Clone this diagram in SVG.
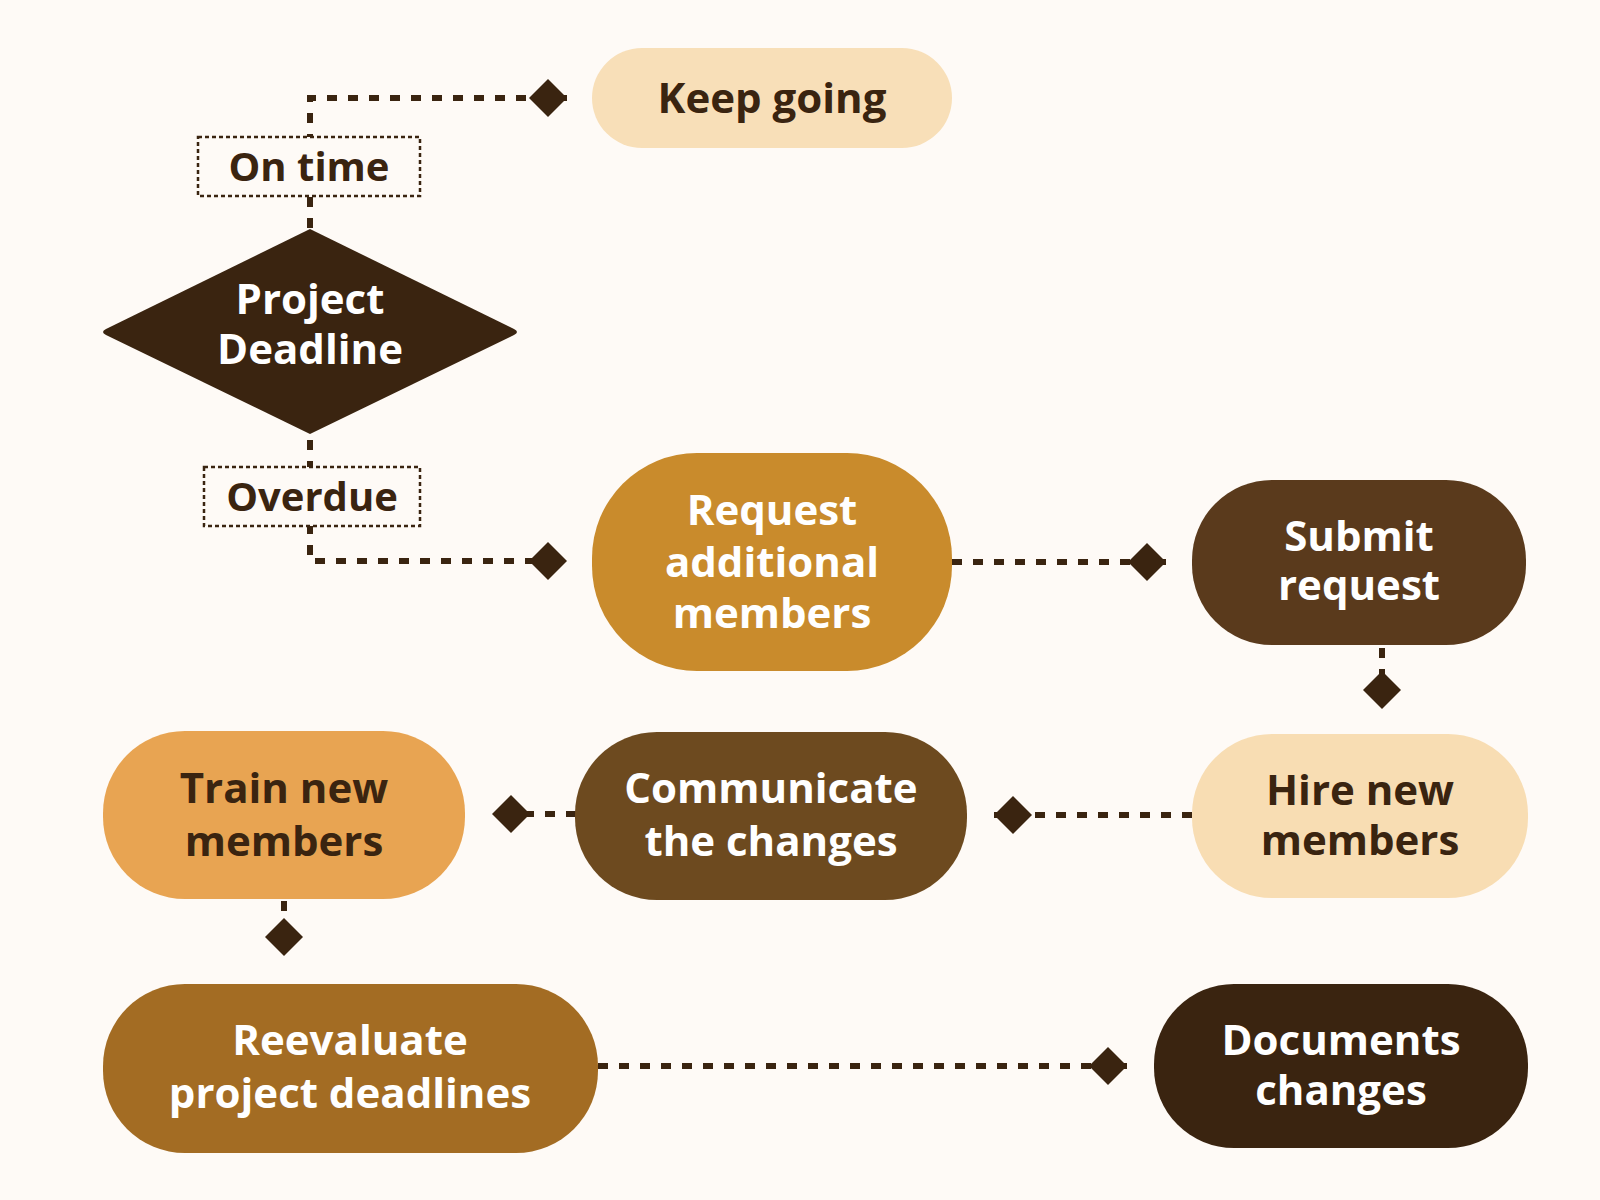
<svg xmlns="http://www.w3.org/2000/svg" width="1600" height="1200" viewBox="0 0 1600 1200">
<defs>
<style>
.t{font-family:"Open Sans","Noto Sans","Liberation Sans",sans-serif;font-weight:700;font-size:42px;text-anchor:middle}
.lt{fill:#3A2410}
.dk{fill:#FFFFFF}
.lbl{font-size:40px;font-weight:700}
.c{fill:none;stroke:#3A2410;stroke-width:6;stroke-dasharray:10 11}
.box{fill:#FEFAF6;stroke:#3A2410;stroke-width:2.5;stroke-dasharray:4 3}
</style>
<marker id="dia" markerUnits="userSpaceOnUse" markerWidth="40" markerHeight="40" viewBox="0 -20 40 40" refX="38" refY="0" orient="auto">
<path d="M0,0 L19,-19 L38,0 L19,19 Z" fill="#3A2410"/>
</marker>
</defs>
<rect width="1600" height="1200" fill="#FEFAF6"/>

<g id="connectors">
<path class="c" d="M310,228 V98 H567" marker-end="url(#dia)"/>
<path class="c" d="M310,440 V561 H567" marker-end="url(#dia)"/>
<path class="c" d="M952,562 H1166" marker-end="url(#dia)"/>
<path class="c" d="M1382,648 V709" marker-end="url(#dia)"/>
<path class="c" d="M1192,815 H994" marker-end="url(#dia)"/>
<path class="c" d="M576,814 H492" marker-end="url(#dia)"/>
<path class="c" d="M284,901 V956" marker-end="url(#dia)"/>
<path class="c" d="M598,1066 H1127" marker-end="url(#dia)"/>
</g>
<g id="edge-labels">
<g id="label-ontime">
<rect class="box" x="198" y="137" width="222" height="59"/>
<text class="t lt lbl" x="309" y="181">On time</text>
</g>
<g id="label-overdue">
<rect class="box" x="204" y="467" width="216" height="59"/>
<text class="t lt lbl" x="312" y="511">Overdue</text>
</g>
</g>

<g id="node-keep-going">
<rect x="592" y="48" width="360" height="100" rx="50" fill="#F8DFB8"/>
<text class="t lt" x="772" y="113">Keep going</text>
</g>
<g id="node-project-deadline">
<path d="M310,229 L514,329 Q520,332 514,335 L310,434 L106,335 Q100,332 106,329 Z" fill="#3A2410"/>
<text class="t dk" x="310" y="314">Project</text>
<text class="t dk" x="310" y="364">Deadline</text>
</g>
<g id="node-request">
<rect x="592" y="453" width="360" height="218" rx="105" fill="#C98B2C"/>
<text class="t dk" x="772" y="525">Request</text>
<text class="t dk" x="772" y="577">additional</text>
<text class="t dk" x="772" y="628">members</text>
</g>
<g id="node-submit">
<rect x="1192" y="480" width="334" height="165" rx="80" fill="#5A3A1C"/>
<text class="t dk" x="1359" y="551">Submit</text>
<text class="t dk" x="1359" y="600">request</text>
</g>
<g id="node-hire">
<rect x="1192" y="734" width="336" height="164" rx="80" fill="#F8DDB3"/>
<text class="t lt" x="1360" y="805">Hire new</text>
<text class="t lt" x="1360" y="855">members</text>
</g>
<g id="node-communicate">
<rect x="575" y="732" width="392" height="168" rx="82" fill="#6D4A1F"/>
<text class="t dk" x="771" y="803">Communicate</text>
<text class="t dk" x="771" y="856">the changes</text>
</g>
<g id="node-train">
<rect x="103" y="731" width="362" height="168" rx="82" fill="#E8A452"/>
<text class="t lt" x="284" y="803">Train new</text>
<text class="t lt" x="284" y="856">members</text>
</g>
<g id="node-reevaluate">
<rect x="103" y="984" width="495" height="169" rx="82" fill="#A36C23"/>
<text class="t dk" x="350" y="1055">Reevaluate</text>
<text class="t dk" x="350" y="1108">project deadlines</text>
</g>
<g id="node-documents">
<rect x="1154" y="984" width="374" height="164" rx="80" fill="#3A2410"/>
<text class="t dk" x="1341" y="1055">Documents</text>
<text class="t dk" x="1341" y="1105">changes</text>
</g>
</svg>
